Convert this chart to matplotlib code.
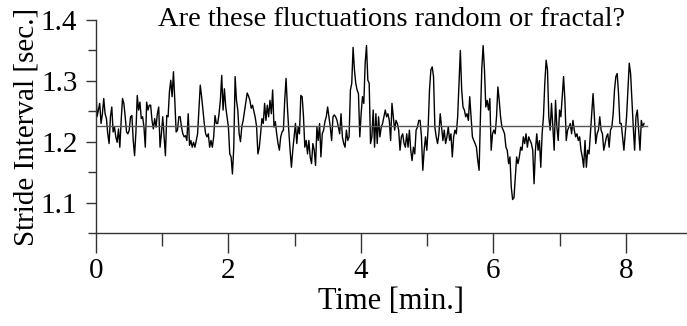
import numpy as np
import matplotlib
matplotlib.use("Agg")
import matplotlib.pyplot as plt
from matplotlib.ticker import FixedLocator

plt.rcParams['font.family'] = ['Liberation Serif', 'DejaVu Serif']

# Stride intervals [sec.], in order (evenly spaced in time)
stride_intervals = [
    1.298, 1.241, 1.252, 1.263, 1.230, 1.246, 1.271, 1.246, 1.238, 1.213,
    1.197, 1.241, 1.257, 1.216, 1.224, 1.208, 1.199, 1.221, 1.191, 1.235,
    1.271, 1.263, 1.241, 1.216, 1.213, 1.219, 1.241, 1.243, 1.202, 1.177,
    1.216, 1.276, 1.252, 1.265, 1.238, 1.241, 1.224, 1.191, 1.265, 1.252,
    1.260, 1.260, 1.235, 1.221, 1.238, 1.224, 1.246, 1.257, 1.191, 1.213,
    1.241, 1.208, 1.177, 1.243, 1.241, 1.282, 1.301, 1.274, 1.315, 1.268,
    1.216, 1.219, 1.241, 1.241, 1.224, 1.213, 1.208, 1.210, 1.202, 1.246,
    1.194, 1.202, 1.191, 1.199, 1.191, 1.202, 1.213, 1.252, 1.293, 1.274,
    1.252, 1.230, 1.213, 1.208, 1.213, 1.191, 1.202, 1.191, 1.208, 1.243,
    1.230, 1.230, 1.246, 1.268, 1.309, 1.252, 1.287, 1.257, 1.241, 1.224,
    1.180, 1.175, 1.147, 1.191, 1.307, 1.268, 1.252, 1.213,
    1.200, 1.225, 1.235, 1.250, 1.265, 1.280, 1.275, 1.268, 1.255, 1.260,
    1.250, 1.240, 1.225, 1.180, 1.190,
    1.213, 1.238, 1.230, 1.263, 1.235, 1.260, 1.241, 1.268, 1.246, 1.285,
    1.224, 1.233, 1.213, 1.197, 1.186, 1.208, 1.216, 1.219, 1.268, 1.304,
    1.257, 1.219, 1.186, 1.158, 1.186, 1.208, 1.230, 1.197, 1.224, 1.213,
    1.276, 1.274, 1.241, 1.191, 1.202, 1.180, 1.202, 1.175, 1.164, 1.197,
    1.186,
    1.161, 1.224, 1.202, 1.230, 1.175, 1.213, 1.219, 1.233, 1.241, 1.257,
    1.241, 1.224, 1.202, 1.241, 1.244, 1.241, 1.235, 1.224, 1.213, 1.246,
    1.208, 1.197, 1.191, 1.219, 1.202, 1.208, 1.285, 1.296, 1.355, 1.318,
    1.296, 1.285, 1.279, 1.208, 1.246, 1.274, 1.263, 1.329, 1.358, 1.301,
    1.296,
    1.197, 1.208, 1.252, 1.191, 1.246, 1.197, 1.241, 1.208, 1.224,
    1.230, 1.241, 1.252, 1.241, 1.246, 1.235, 1.202, 1.263, 1.241, 1.219,
    1.235, 1.230, 1.219, 1.186, 1.208, 1.213, 1.197, 1.191, 1.213, 1.191,
    1.219, 1.186, 1.169, 1.191, 1.180, 1.219, 1.224, 1.235, 1.235, 1.208,
    1.153, 1.186,
    1.208, 1.186, 1.224, 1.285, 1.318, 1.323, 1.307, 1.224, 1.208, 1.197,
    1.213, 1.246, 1.224, 1.202, 1.219, 1.197, 1.208, 1.224, 1.202, 1.213,
    1.175, 1.208, 1.219, 1.213, 1.241, 1.296, 1.350, 1.285, 1.257,
    1.252, 1.241, 1.246, 1.235, 1.274, 1.241, 1.208, 1.202, 1.197, 1.191,
    1.169,
    1.153, 1.241, 1.320, 1.358, 1.318, 1.257, 1.268, 1.252, 1.271,
    1.186, 1.213, 1.219, 1.213, 1.241, 1.290, 1.268, 1.241, 1.224, 1.219,
    1.213, 1.191, 1.186, 1.164, 1.175, 1.125, 1.105, 1.108, 1.142, 1.175,
    1.164, 1.175, 1.191, 1.186, 1.208, 1.197, 1.213, 1.191, 1.208, 1.202,
    1.197, 1.186, 1.131,
    1.186, 1.213, 1.186, 1.202, 1.158, 1.213, 1.241, 1.296, 1.334, 1.318,
    1.241, 1.219, 1.263, 1.224, 1.186, 1.268, 1.224, 1.202, 1.252, 1.241,
    1.274, 1.307, 1.268, 1.202, 1.219, 1.224, 1.230, 1.213, 1.235, 1.219,
    1.208, 1.213, 1.202, 1.208, 1.186, 1.175, 1.158, 1.202, 1.158, 1.186,
    1.180,
    1.213, 1.246, 1.279, 1.241, 1.197, 1.213, 1.219, 1.241, 1.219, 1.213,
    1.186, 1.197, 1.208, 1.213, 1.191, 1.219, 1.224, 1.246, 1.285, 1.307,
    1.312, 1.279, 1.230, 1.230, 1.208, 1.186, 1.213, 1.241, 1.285, 1.329,
    1.312, 1.268, 1.224, 1.186, 1.241, 1.252, 1.219, 1.186, 1.235, 1.224,
    1.230,
]
record_end_min = 8.27      # time of the last stride [min.]
mean_interval = 1.2255     # level of the horizontal mean line [sec.]

title = "Are these fluctuations random or fractal?"
x_label = "Time [min.]"
y_label = "Stride Interval [sec.]"
x_major = [0, 2, 4, 6, 8]
x_minor = [1, 3, 5, 7]
y_major = [1.1, 1.2, 1.3, 1.4]
y_minor = [1.05, 1.15, 1.25, 1.35]

si = np.array(stride_intervals)
t = np.linspace(0.0, record_end_min, len(si))

fig = plt.figure(figsize=(6.87, 3.26), dpi=100)
ax = fig.add_axes([95.7 / 687, 1 - 233 / 326, 1 - 95.7 / 687, 213 / 326])

ax.plot(t, si, color='black', lw=1.0)
ax.plot([0, record_end_min + 0.05], [mean_interval, mean_interval],
        color='#555555', lw=1.0)

ax.set_xlim(0, (687 - 95.7) / 66.3)
ax.set_ylim(1.05, 1.4)

for s in ['top', 'right']:
    ax.spines[s].set_visible(False)
for s in ['left', 'bottom']:
    ax.spines[s].set_color('#333333')
    ax.spines[s].set_linewidth(1.0)

ax.xaxis.set_major_locator(FixedLocator(x_major))
ax.xaxis.set_minor_locator(FixedLocator(x_minor))
ax.yaxis.set_major_locator(FixedLocator(y_major))
ax.yaxis.set_minor_locator(FixedLocator(y_minor))
ax.set_xticklabels([str(v) for v in x_major])
ax.set_yticklabels([f"{v:.1f}" for v in y_major])

ax.tick_params(axis='x', which='major', direction='out', length=14.4, width=1.0,
               color='#333333', labelsize=21, pad=3.5)
ax.tick_params(axis='x', which='minor', direction='out', length=9.4, width=1.0,
               color='#333333')
ax.tick_params(axis='y', which='major', direction='out', length=7.2, width=1.0,
               color='#333333', labelsize=21, pad=6)
ax.tick_params(axis='y', which='minor', direction='out', length=5.8, width=1.0,
               color='#333333')

ax.set_xlabel(x_label, fontsize=22, labelpad=2)
ax.set_ylabel(y_label, fontsize=21, labelpad=1)
ax.text(0.5, 1.0, title, transform=ax.transAxes, ha='center', va='center',
        fontsize=20.5)

fig.savefig("out.png", dpi=100)
